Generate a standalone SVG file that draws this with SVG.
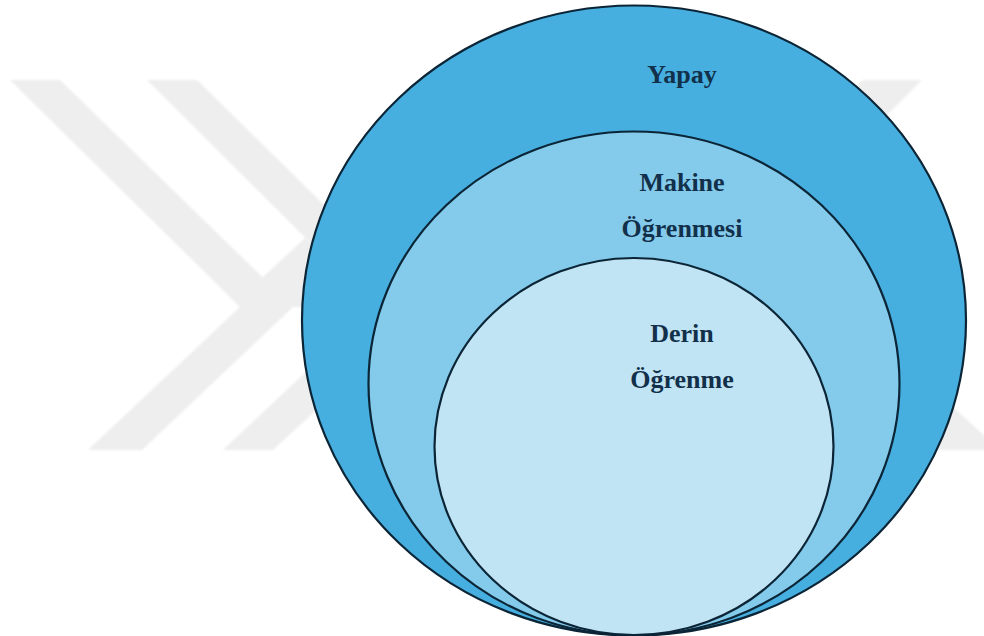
<svg xmlns="http://www.w3.org/2000/svg" width="984" height="636" viewBox="0 0 984 636">
  <defs>
    <filter id="soft" x="-5%" y="-5%" width="110%" height="110%">
      <feGaussianBlur stdDeviation="1.2"/>
    </filter>
    <style>
      .mark { fill: #eeeeee; }
      .ring { stroke: #0b2536; stroke-width: 2.2; }
      .outer { fill: #46afe0; }
      .middle { fill: #84caea; }
      .inner { fill: #c1e4f4; }
      .label { font-weight: bold; font-size: 26px; fill: #12304a; text-anchor: middle; }
    </style>
  </defs>

  <rect width="984" height="636" fill="#ffffff"/>

  <!-- faint background watermark -->
  <g id="watermark" class="mark" filter="url(#soft)">
    <polygon points="10,80 60,80 293,307 142,450 88,450 240,307"/>
    <polygon points="147,80 197,80 428,307 273,450 223,450 375,307"/>
    <polygon points="262,278 305,238 375,307 293,307"/>
    <polygon points="863,80 922,80 766,236 1000,450 940,450 700,236"/>
  </g>

  <!-- nested sets -->
  <g id="yapay">
    <ellipse class="ring outer" cx="634" cy="320.5" rx="332" ry="315"/>
    <text class="label" font-family="Liberation Serif, Tinos, DejaVu Serif, serif" x="682" y="83">Yapay</text>
  </g>

  <g id="makine-ogrenmesi">
    <ellipse class="ring middle" cx="634" cy="383.5" rx="265.5" ry="252"/>
    <text class="label" font-family="Liberation Serif, Tinos, DejaVu Serif, serif" x="682" y="191">Makine</text>
    <text class="label" font-family="Liberation Serif, Tinos, DejaVu Serif, serif" x="682" y="237">Öğrenmesi</text>
  </g>

  <g id="derin-ogrenme">
    <ellipse class="ring inner" cx="634" cy="446.5" rx="199.5" ry="188.5"/>
    <text class="label" font-family="Liberation Serif, Tinos, DejaVu Serif, serif" x="682" y="342">Derin</text>
    <text class="label" font-family="Liberation Serif, Tinos, DejaVu Serif, serif" x="682" y="388">Öğrenme</text>
  </g>
</svg>
